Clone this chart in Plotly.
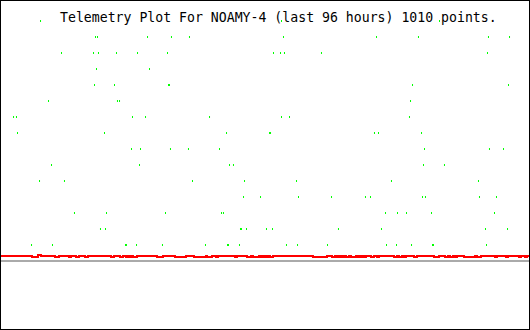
import plotly.graph_objects as go

# ---- data (hours across the 96-hour window, value units) ----
title_text = "Telemetry Plot For NOAMY-4 (last 96 hours) 1010 points."

green_levels = [15, 14, 13, 12, 11, 10, 9, 8, 7, 6, 5, 4, 3, 2, 1]
green_times = [
    [7.34, 50.99, 79.61],
    [17.30, 17.66, 26.72, 31.06, 34.32, 51.35, 68.20, 75.80, 88.48, 92.29],
    [11.14, 16.94, 17.84, 21.10, 24.91, 30.34, 49.54, 50.81, 51.53, 58.23, 88.30],
    [17.48, 27.08],
    [17.12, 20.74, 30.52, 30.70, 74.72, 92.11],
    [8.79, 21.28, 21.65, 74.36],
    [2.45, 2.99, 24.00, 26.36, 37.95, 50.99, 52.44, 74.17],
    [3.17, 18.93, 41.03, 48.82, 49.00, 67.83, 68.56, 76.35],
    [23.82, 25.45, 30.88, 34.14, 39.76, 76.89, 88.66, 91.20],
    [9.33, 25.27, 41.57, 42.29, 76.71, 80.51],
    [7.16, 11.68, 34.87, 44.29, 53.71, 70.91, 86.67],
    [44.11, 47.19, 54.07, 60.05, 66.20, 67.11, 76.53, 77.07, 86.85, 89.93],
    [13.49, 19.29, 29.98, 40.12, 40.48, 69.83, 72.00, 73.63, 78.16, 89.57],
    [18.20, 19.11, 43.56, 43.74, 44.65, 48.27, 49.36, 61.31, 69.10, 87.94, 91.93],
    [5.71, 9.51, 22.73, 22.91, 24.73, 29.43, 37.22, 41.21, 41.39, 43.38,
     51.89, 53.89, 59.32, 70.01, 71.82, 74.54, 78.34, 78.52, 88.12],
]

red_t = [0, 5.80, 6.88, 7.43,
         9.96, 10.69, 12.50, 12.86, 13.77, 14.31, 15.40, 15.94, 20.11, 20.65,
         21.74, 22.28, 22.82, 23.19, 23.37, 23.73, 24.09, 24.82, 28.44, 29.52,
         31.70, 33.69, 35.14, 37.31, 37.49, 38.40, 39.12, 39.49, 42.57, 42.93,
         44.74, 45.46, 45.83, 46.91, 47.09, 47.46, 47.64, 48.00, 48.36, 48.54,
         48.91, 49.45, 56.69, 59.23, 60.14, 60.68, 60.86, 61.22, 61.40, 61.77,
         62.13, 62.49, 62.67, 63.21, 63.58, 64.48, 64.66, 65.03, 65.21, 65.57,
         65.93, 66.29, 67.20, 67.74, 68.29, 68.65, 71.37, 71.91, 72.27, 72.82,
         73.18, 73.54, 74.99, 75.53, 78.61, 79.52, 80.60, 81.15, 81.51, 82.05,
         82.42, 82.78, 84.05, 86.04, 86.40, 87.12, 89.66, 90.02, 91.65, 92.02,
         94.01, 94.37, 95.09, 95.46, 96]
red_v = [0.3125, 0.25, 0.375, 0.3125,
         0.25, 0.3125, 0.25, 0.3125, 0.25, 0.3125, 0.25, 0.3125, 0.25, 0.3125,
         0.25, 0.3125, 0.25, 0.3125, 0.25, 0.3125, 0.25, 0.3125, 0.25, 0.3125,
         0.25, 0.3125, 0.25, 0.3125, 0.25, 0.3125, 0.25, 0.3125, 0.25, 0.3125,
         0.25, 0.3125, 0.25, 0.3125, 0.25, 0.3125, 0.25, 0.3125, 0.25, 0.3125,
         0.25, 0.3125, 0.25, 0.3125, 0.25, 0.3125, 0.25, 0.3125, 0.25, 0.3125,
         0.25, 0.3125, 0.25, 0.3125, 0.25, 0.3125, 0.25, 0.3125, 0.25, 0.3125,
         0.25, 0.3125, 0.25, 0.3125, 0.25, 0.3125, 0.25, 0.3125, 0.25, 0.3125,
         0.25, 0.3125, 0.25, 0.3125, 0.25, 0.3125, 0.25, 0.3125, 0.25, 0.3125,
         0.25, 0.3125, 0.25, 0.3125, 0.25, 0.3125, 0.25, 0.3125, 0.25, 0.3125,
         0.25, 0.3125, 0.25, 0.3125, 0.3125]

# ---- build ----
gx, gy = [], []
for lvl, times in zip(green_levels, green_times):
    for t in times:
        gx.append(t)
        gy.append(lvl)

W, H = 530, 330
fig = go.Figure()
fig.add_trace(go.Scatter(
    x=red_t, y=red_v, mode="lines", line=dict(color="#ff0000", width=2, shape="hv"),
    hoverinfo="skip", showlegend=False))
fig.add_trace(go.Scatter(
    x=gx, y=gy, mode="markers",
    marker=dict(symbol="line-ns", size=1.43, color="#00ff00",
                line=dict(color="#00ff00", width=1)),
    hoverinfo="skip", showlegend=False))

fig.update_layout(
    width=W, height=H,
    margin=dict(l=1, r=1, t=1, b=1, pad=0, autoexpand=False),
    paper_bgcolor="#000000",
    plot_bgcolor="#ffffff",
    showlegend=False,
    xaxis=dict(range=[96 / 530, 529 * 96 / 530], visible=True, showgrid=False,
               zeroline=False, showticklabels=False, ticks="", showline=False,
               fixedrange=True),
    yaxis=dict(range=[-4.25, 16.25], showgrid=False, zeroline=True,
               zerolinecolor="#aaaaaa", zerolinewidth=2, showticklabels=False,
               ticks="", showline=False, fixedrange=True),
    annotations=[dict(
        text=title_text, xref="paper", yref="paper",
        x=(58 - 1) / 528, y=1 - (17.0 - 1) / 328, xanchor="left", yanchor="middle",
        showarrow=False, font=dict(family="DejaVu Sans Mono", size=13.2, color="#000000"))],
)

fig.write_html("out.html", config={"displayModeBar": False})
